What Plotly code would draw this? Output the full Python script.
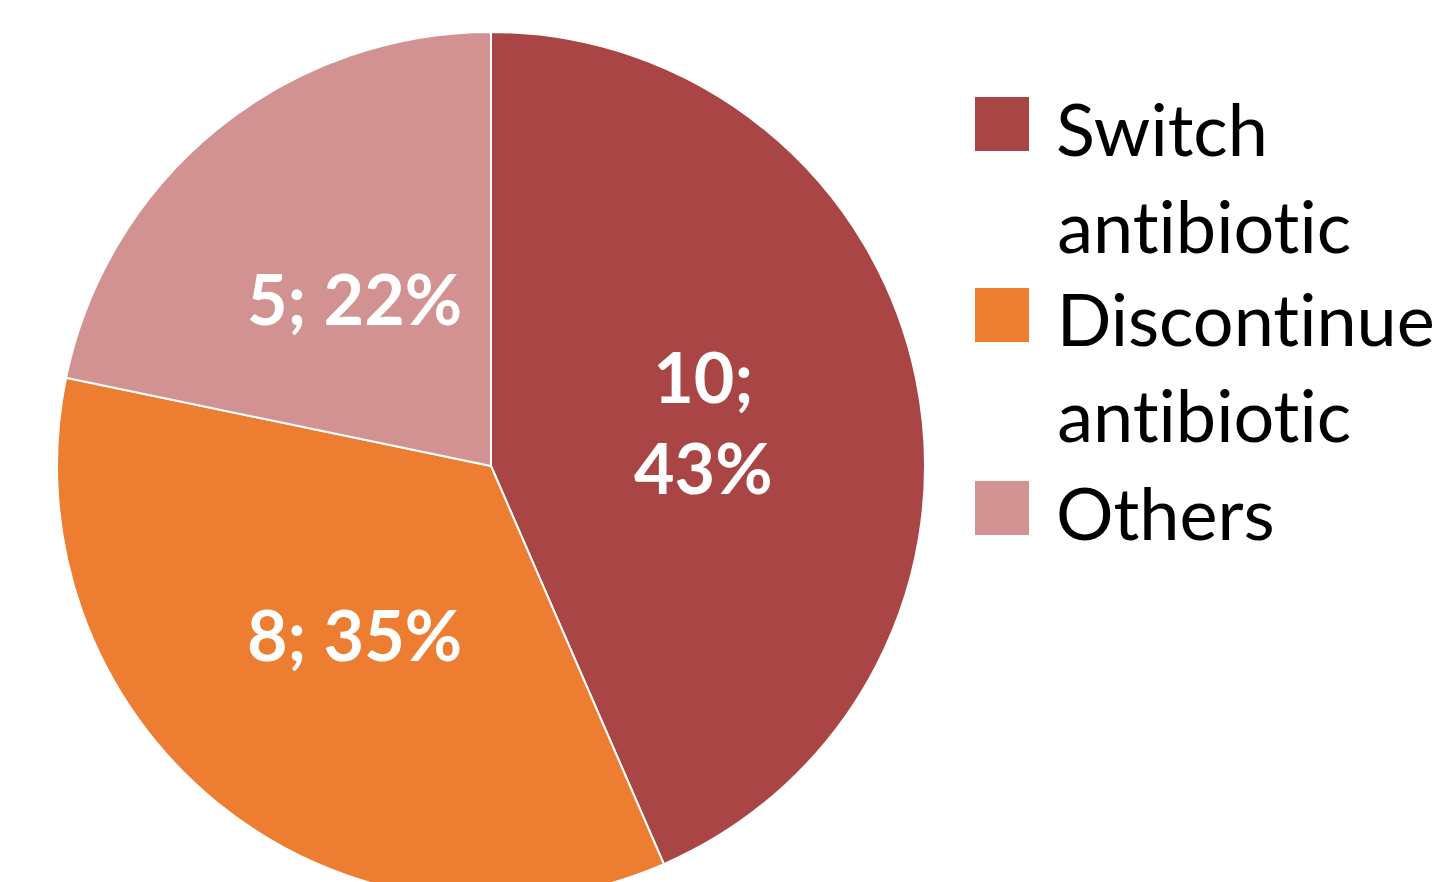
import numpy as np
import plotly.graph_objects as go

labels = ["Switch antibiotic", "Discontinue antibiotic", "Others"]
values = [10, 8, 5]
colors = ["#A94645", "#ED7D31", "#D29292"]
label_breaks = ["<br>", " ", " "]  # how value and percent are joined in each slice label

W, H = 1454, 932
FONT = "Lato"
CX, CY, R = 491, 466, 434  # pie centre / radius in pixels

def py(ypx):
    return 1 - ypx / H

def px(xpx):
    return xpx / W

fig = go.Figure()
fig.add_trace(go.Pie(
    labels=labels, values=values, sort=False, direction="clockwise", rotation=0,
    marker=dict(colors=colors, line=dict(color="white", width=2)),
    textinfo="none",
    domain=dict(x=[px(CX - R), px(CX + R)], y=[py(CY + R), py(CY - R)]),
    showlegend=False, hoverinfo="label+value+percent",
))

# data labels at half radius along each slice's mid-angle (Excel style)
vals = np.array(values, dtype=float)
total = vals.sum()
cum = np.cumsum(vals)
mid = (cum - vals / 2) / total * 2 * np.pi
for v, a, brk in zip(values, mid, label_breaks):
    lx = CX + 0.5 * R * np.sin(a)
    ly = CY - 0.5 * R * np.cos(a)
    pct = f"{round(v / total * 100):.0f}%"
    fig.add_annotation(text=f"{v};{brk}{pct}", xref="paper", yref="paper",
                       x=px(lx), y=py(ly), xanchor="center", yanchor="middle",
                       showarrow=False, align="center",
                       font=dict(family=FONT, size=70, color="white", weight="bold"))

# custom legend
sq_tops = [97, 288, 481]
line_mid = [[128, 225], [318, 414], [512]]
for i, lab in enumerate(labels):
    t = sq_tops[i]
    fig.add_shape(type="rect", xref="paper", yref="paper",
                  x0=px(975), x1=px(1029), y0=py(t + 54), y1=py(t),
                  fillcolor=colors[i], line=dict(width=0))
    for j, word in enumerate(lab.split(" ")):
        fig.add_annotation(text=word, xref="paper", yref="paper",
                           x=px(1054), y=py(line_mid[i][j]), xanchor="left", yanchor="middle",
                           showarrow=False, font=dict(family=FONT, size=72, color="black"))

fig.update_layout(width=W, height=H, margin=dict(l=0, r=0, t=0, b=0),
                  paper_bgcolor="white", plot_bgcolor="white")

fig.write_html(
    "out.html",
    config={"displayModeBar": False},
    post_script=("document.body.style.margin='0';"
                 "document.body.style.overflow='hidden';"
                 "document.documentElement.style.overflow='hidden';"
                 "document.body.style.fontVariantLigatures='none';"
                 "document.body.style.fontFeatureSettings='\"liga\" 0, \"clig\" 0';"),
)
